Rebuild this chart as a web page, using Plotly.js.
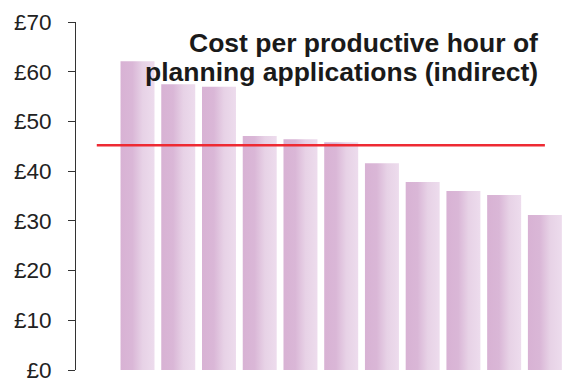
<!DOCTYPE html>
<html>
<head>
<meta charset="utf-8">
<script src="https://cdn.plot.ly/plotly-3.0.1.min.js"></script>
<style>html,body{margin:0;padding:0;background:#fff;}#chart{width:566px;height:379px;}</style>
</head>
<body>
<div id="chart"></div>
<script>
// Data
var authorities = ["1","2","3","4","5","6","7","8","9","10","11"];
var costPerHour = [62.1, 57.5, 57.0, 47.05, 46.4, 45.8, 41.6, 37.8, 36.0, 35.2, 31.2];
var averageCost = 45.2;
var yTickValues = [0, 10, 20, 30, 40, 50, 60, 70];
var yTickLabels = ["£0", "£10", "£20", "£30", "£40", "£50", "£60", "£70"];
var titleLines = ["Cost per productive hour of", "planning applications (indirect)"];

var xIdx = authorities.map(function(_, i){ return i; });

var traces = [{
  type: 'bar',
  x: xIdx,
  y: costPerHour,
  marker: {color: '#dfc2dd', line: {width: 0}},
  hoverinfo: 'y'
}];

var layout = {
  width: 566, height: 379,
  margin: {l: 76, r: 4, t: 22, b: 9},
  paper_bgcolor: '#ffffff', plot_bgcolor: '#ffffff',
  showlegend: false,
  bargap: 0.166,
  font: {family: 'Liberation Sans, Arial, sans-serif', color: '#222222'},
  xaxis: {range: [-1.51, 10.42], visible: false, fixedrange: true},
  yaxis: {
    range: [0, 70], tickvals: yTickValues, ticktext: yTickLabels,
    showgrid: false, zeroline: false, showline: true, linecolor: '#333333', linewidth: 1,
    ticks: 'outside', ticklen: 7, tickcolor: '#333333', tickwidth: 1,
    tickfont: {size: 22.5, color: '#222222'}, ticklabelstandoff: 12,
    ticklabeloverflow: 'allow', fixedrange: true
  },
  shapes: [{
    type: 'line', xref: 'x', yref: 'y', x0: -1, x1: 10, y0: averageCost, y1: averageCost,
    line: {color: '#ee2a33', width: 2.5}
  }],
  annotations: [
    {text: '<b>' + titleLines[0] + '</b>', xref: 'paper', yref: 'paper', x: 0.9547, y: 0.9397,
     xanchor: 'right', yanchor: 'middle', showarrow: false, font: {size: 26.5, color: '#1a1a1a'}},
    {text: '<b>' + titleLines[1] + '</b>', xref: 'paper', yref: 'paper', x: 0.9547, y: 0.856,
     xanchor: 'right', yanchor: 'middle', showarrow: false, font: {size: 26.5, color: '#1a1a1a'}}
  ]
};

Plotly.newPlot('chart', traces, layout, {displayModeBar: false, staticPlot: true}).then(function(gd){
  var svg = gd.querySelector('.main-svg');
  var ns = 'http://www.w3.org/2000/svg';
  var defs = svg.querySelector('defs') || svg.insertBefore(document.createElementNS(ns, 'defs'), svg.firstChild);
  var grad = document.createElementNS(ns, 'linearGradient');
  grad.setAttribute('id', 'barGrad');
  grad.setAttribute('x1', '0'); grad.setAttribute('x2', '1');
  grad.setAttribute('y1', '0'); grad.setAttribute('y2', '0');
  [['0%', '#d8b2d4'], ['35%', '#dab7d7'], ['65%', '#e7d2e6'], ['100%', '#eddced']].forEach(function(s){
    var st = document.createElementNS(ns, 'stop');
    st.setAttribute('offset', s[0]); st.setAttribute('stop-color', s[1]);
    grad.appendChild(st);
  });
  defs.appendChild(grad);
  gd.querySelectorAll('.trace.bars .point path').forEach(function(p){
    p.style.fill = 'url(#barGrad)';
  });
});
</script>
</body>
</html>
